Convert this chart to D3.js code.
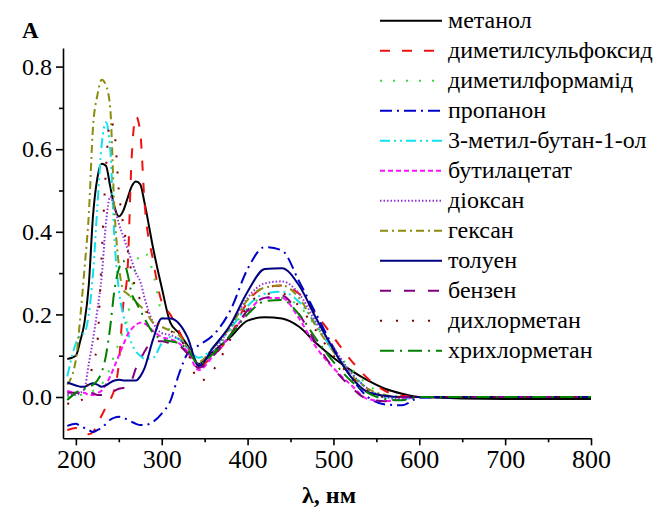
<!DOCTYPE html>
<html>
<head>
<meta charset="utf-8">
<script src="https://cdn.jsdelivr.net/npm/d3@7/dist/d3.min.js"></script>
<style>
  body { margin: 0; background: #fff; font-family: 'Liberation Serif', serif; }
  .axis path, .axis line { stroke: #000; stroke-width: 1.6; }
</style>
</head>
<body>
<div id="chart"></div>
<script>
// wavelength grid, nm
const wavelengths = [190,200,205,210,215,220,225,230,235,240,245,250,255,260,265,270,275,280,290,300,310,320,330,343,360,380,400,420,440,460,480,500,520,540,560,580,600,700,800];

// absorbance per solvent
const methanol   = [0.092,0.10,0.135,0.18,0.27,0.44,0.53,0.565,0.56,0.51,0.46,0.437,0.45,0.48,0.51,0.522,0.515,0.47,0.36,0.265,0.18,0.155,0.125,0.08,0.11,0.145,0.185,0.193,0.19,0.17,0.13,0.095,0.065,0.04,0.02,0.008,0.0,-0.005,-0.005];
const dmso       = [-0.08,-0.075,-0.08,-0.085,-0.09,-0.085,-0.065,-0.045,-0.025,-0.007,0.02,0.08,0.22,0.30,0.58,0.68,0.64,0.47,0.33,0.23,0.20,0.16,0.12,0.075,0.10,0.15,0.23,0.265,0.27,0.25,0.20,0.145,0.09,0.045,0.015,0.003,0.0,0.0,0.0];
const dmf        = [0.0,0.005,0.005,0.01,0.01,0.015,0.02,0.03,0.05,0.07,0.105,0.13,0.16,0.19,0.26,0.32,0.345,0.35,0.30,0.20,0.16,0.14,0.12,0.085,0.11,0.16,0.215,0.24,0.24,0.22,0.17,0.115,0.07,0.03,0.005,0.0,0.0,0.0,0.0];
const propanone  = [-0.07,-0.065,-0.07,-0.075,-0.08,-0.085,-0.08,-0.075,-0.065,-0.055,-0.05,-0.048,-0.05,-0.055,-0.06,-0.065,-0.068,-0.068,-0.06,-0.04,-0.01,0.055,0.105,0.125,0.15,0.21,0.31,0.363,0.355,0.28,0.20,0.12,0.05,0.0,-0.018,-0.02,-0.002,0.0,0.0];
const isoamyl    = [0.05,0.13,0.15,0.155,0.20,0.30,0.46,0.61,0.665,0.60,0.38,0.26,0.20,0.16,0.13,0.11,0.10,0.092,0.095,0.13,0.145,0.14,0.12,0.095,0.12,0.165,0.22,0.25,0.255,0.23,0.175,0.11,0.06,0.02,0.0,-0.005,0.0,0.0,0.0];
const butylAc    = [0.015,0.01,0.01,0.01,0.005,0.005,0.01,0.015,0.03,0.05,0.075,0.10,0.125,0.15,0.165,0.175,0.18,0.178,0.16,0.145,0.14,0.13,0.11,0.065,0.10,0.15,0.205,0.24,0.24,0.19,0.12,0.07,0.03,-0.005,-0.01,-0.005,0.0,0.0,0.0];
const dioxane    = [0.005,0.005,0.01,0.02,0.08,0.14,0.21,0.29,0.42,0.485,0.46,0.42,0.39,0.36,0.33,0.30,0.28,0.24,0.18,0.155,0.15,0.14,0.12,0.08,0.11,0.17,0.24,0.275,0.28,0.25,0.18,0.12,0.06,0.02,0.0,-0.005,0.0,0.0,0.0];
const hexane     = [0.03,0.09,0.19,0.31,0.44,0.655,0.73,0.768,0.755,0.70,0.45,0.32,0.26,0.25,0.24,0.23,0.22,0.21,0.18,0.17,0.16,0.15,0.12,0.085,0.12,0.17,0.235,0.265,0.27,0.24,0.17,0.11,0.055,0.02,0.005,0.0,0.0,0.0,0.0];
const toluene    = [0.035,0.028,0.025,0.025,0.03,0.033,0.03,0.025,0.028,0.035,0.04,0.042,0.04,0.04,0.04,0.04,0.05,0.07,0.14,0.19,0.19,0.178,0.145,0.075,0.12,0.175,0.255,0.31,0.312,0.27,0.19,0.115,0.05,0.012,0.003,0.0,0.0,0.0,0.0];
const benzene    = [0.01,0.01,0.01,0.01,0.01,0.009,0.005,0.005,0.005,0.01,0.015,0.02,0.022,0.025,0.04,0.07,0.09,0.11,0.135,0.135,0.13,0.125,0.105,0.07,0.10,0.15,0.21,0.24,0.245,0.20,0.13,0.07,0.025,-0.005,-0.01,0.0,0.0,0.0,0.0];
const dcm        = [-0.015,-0.02,-0.01,0.0,0.04,0.08,0.13,0.34,0.55,0.67,0.64,0.50,0.42,0.36,0.30,0.26,0.235,0.215,0.19,0.17,0.16,0.145,0.11,0.037,0.065,0.14,0.22,0.25,0.25,0.22,0.16,0.10,0.05,0.015,0.0,0.0,0.0,0.0,0.0];
const trichloro  = [-0.007,0.01,0.017,0.02,0.025,0.03,0.04,0.06,0.10,0.17,0.26,0.31,0.33,0.30,0.25,0.23,0.21,0.19,0.155,0.14,0.135,0.13,0.115,0.08,0.105,0.15,0.20,0.232,0.235,0.20,0.14,0.085,0.04,0.01,-0.005,-0.008,0.0,0.0,0.0];

const labels = ["метанол","диметилсульфоксид","диметилформамід","пропанон","3-метил-бутан-1-ол","бутилацетат","діоксан","гексан","толуен","бензен","дихлорметан","хрихлорметан"];
const values = [methanol, dmso, dmf, propanone, isoamyl, butylAc, dioxane, hexane, toluene, benzene, dcm, trichloro];

const xMajor = [200,300,400,500,600,700,800];
const xMinor = [250,350,450,550,650,750];
const yMajor = [0,0.2,0.4,0.6,0.8];
const yMinor = [0.1,0.3,0.5,0.7];

// styling for each series, same order as labels
const colors = ["#000000","#ee1111","#33dd33","#0000cc","#11e0ee","#ff11ff","#9033d8","#8c8c10","#000080","#800080","#800000","#008000"];
const dashes = [null,"10,12","2,11","12,5,2,5","10,4,2,4,2,4","5,3","1.5,2","8,4,2,4",null,"11,13","2,14","14,6,2,6"];

const serif = "Liberation Serif, Times New Roman, Times, serif";

const svg = d3.select("#chart").append("svg")
	.attr("width", 658).attr("height", 509)
	.attr("font-family", serif)
	.style("display", "block");
const x = d3.scaleLinear().domain([185, 800]).range([63, 591]);
const y = d3.scaleLinear().domain([-0.1, 0.845]).range([438.3, 48]);

// axes
svg.append("g").attr("class", "axis")
	.attr("transform", "translate(0," + y(-0.1) + ")")
	.call(d3.axisBottom(x).tickValues(xMajor).tickSize(7).tickPadding(4).tickSizeOuter(0))
	.attr("font-family", serif).attr("font-size", 26);
svg.append("g").attr("class", "axis")
	.attr("transform", "translate(0," + y(-0.1) + ")")
	.call(d3.axisBottom(x).tickValues(xMinor).tickSize(4).tickFormat("").tickSizeOuter(0))
	.select(".domain").remove();
svg.append("g").attr("class", "axis")
	.attr("transform", "translate(" + x(185) + ",0)")
	.call(d3.axisLeft(y).tickValues(yMajor).tickFormat(d3.format(".1f")).tickSize(7).tickPadding(4).tickSizeOuter(0))
	.attr("font-family", serif).attr("font-size", 24);
svg.append("g").attr("class", "axis")
	.attr("transform", "translate(" + x(185) + ",0)")
	.call(d3.axisLeft(y).tickValues(yMinor).tickSize(4).tickFormat("").tickSizeOuter(0))
	.select(".domain").remove();

// curves
const line = d3.line()
	.x((d, i) => x(wavelengths[i]))
	.y(d => y(d))
	.curve(d3.curveMonotoneX);

svg.append("g").selectAll("path")
	.data(values)
	.join("path")
	.attr("d", line)
	.attr("fill", "none")
	.attr("stroke", (d, i) => colors[i])
	.attr("stroke-width", 2)
	.attr("stroke-dasharray", (d, i) => dashes[i]);

// legend
const legend = svg.append("g").selectAll("g")
	.data(labels)
	.join("g")
	.attr("transform", (d, i) => "translate(380," + (20.7 + i * 30) + ")");
legend.append("line")
	.attr("x1", 0).attr("x2", 62)
	.attr("stroke", (d, i) => colors[i])
	.attr("stroke-width", 2)
	.attr("stroke-dasharray", (d, i) => dashes[i]);
legend.append("text")
	.attr("x", 68).attr("y", 7.5)
	.attr("font-family", serif)
	.attr("font-size", 24)
	.text(d => d);

// titles
svg.append("text").attr("x", 22).attr("y", 38)
	.attr("font-family", serif)
	.attr("font-size", 23).attr("font-weight", "bold")
	.text("A");
svg.append("text").attr("x", 329).attr("y", 503)
	.attr("text-anchor", "middle")
	.attr("font-family", serif)
	.attr("font-size", 24).attr("font-weight", "bold")
	.text("λ, нм");
</script>
</body>
</html>
